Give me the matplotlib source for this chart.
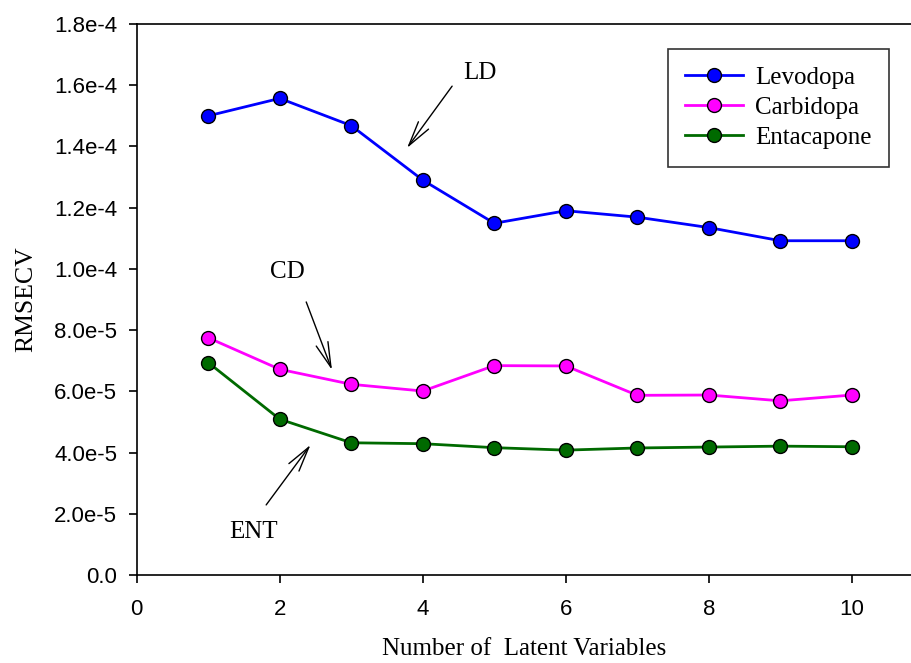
import matplotlib
matplotlib.use("Agg")
import matplotlib.pyplot as plt

# RMSECV vs number of latent variables
n_lv = [1, 2, 3, 4, 5, 6, 7, 8, 9, 10]
levodopa = [1.500e-4, 1.557e-4, 1.468e-4, 1.290e-4, 1.149e-4,
            1.190e-4, 1.169e-4, 1.135e-4, 1.092e-4, 1.092e-4]
carbidopa = [7.75e-5, 6.72e-5, 6.23e-5, 6.01e-5, 6.84e-5,
             6.83e-5, 5.87e-5, 5.88e-5, 5.69e-5, 5.88e-5]
entacapone = [6.94e-5, 5.09e-5, 4.32e-5, 4.29e-5, 4.16e-5,
              4.08e-5, 4.15e-5, 4.18e-5, 4.21e-5, 4.19e-5]

yticks = [0, 2e-5, 4e-5, 6e-5, 8e-5, 1e-4, 1.2e-4, 1.4e-4, 1.6e-4, 1.8e-4]
ytick_labels = ["0.0", "2.0e-5", "4.0e-5", "6.0e-5", "8.0e-5",
                "1.0e-4", "1.2e-4", "1.4e-4", "1.6e-4", "1.8e-4"]
xticks = [0, 2, 4, 6, 8, 10]

serif = "Liberation Serif"
sans = "Liberation Sans"

fig = plt.figure(figsize=(9.12, 6.63), dpi=100)
ax = fig.add_axes([0.1499, 0.1327, 0.8501, 0.8311])

mk = dict(marker="o", markersize=10, markeredgecolor="black",
          markeredgewidth=1.0, linewidth=2.0)
ax.plot(n_lv, levodopa, color="#0000ff", markerfacecolor="#0000ff",
        label="Levodopa", **mk)
ax.plot(n_lv, carbidopa, color="#ff00ff", markerfacecolor="#ff00ff",
        label="Carbidopa", **mk)
ax.plot(n_lv, entacapone, color="#006a00", markerfacecolor="#006a00",
        label="Entacapone", **mk)

ax.set_xlim(0, 10.84)
ax.set_ylim(0, 1.8e-4)
ax.set_xticks(xticks)
ax.set_xticklabels([str(t) for t in xticks], fontfamily=sans, fontsize=16)
ax.set_yticks(yticks)
ax.set_yticklabels(ytick_labels, fontfamily=sans, fontsize=16)
ax.tick_params(direction="out", length=6, width=1.2, pad=8)
ax.tick_params(axis="x", pad=11)

ax.spines["right"].set_visible(False)
for s in ["left", "bottom", "top"]:
    ax.spines[s].set_linewidth(1.2)

ax.set_xlabel("Number of  Latent Variables", fontfamily=serif, fontsize=18,
              labelpad=13)
ax.set_ylabel("RMSECV", fontfamily=serif, fontsize=18.5, labelpad=12)

# annotations with arrows
arrow = dict(arrowstyle="->,head_length=1.8,head_width=0.45",
             color="black", lw=1.0, shrinkA=0, shrinkB=0)
ax.annotate("", xy=(3.78, 1.395e-4), xytext=(4.41, 1.597e-4),
            arrowprops=arrow)
ax.text(4.80, 1.64e-4, "LD", fontfamily=serif, fontsize=18,
        ha="center", va="center")
ax.annotate("", xy=(2.73, 6.70e-5), xytext=(2.37, 8.92e-5),
            arrowprops=arrow)
ax.text(2.10, 9.9e-5, "CD", fontfamily=serif, fontsize=18,
        ha="center", va="center")
ax.annotate("", xy=(2.43, 4.25e-5), xytext=(1.81, 2.29e-5),
            arrowprops=arrow)
ax.text(1.63, 1.40e-5, "ENT", fontfamily=serif, fontsize=18,
        ha="center", va="center")

leg = ax.legend(loc="upper left", bbox_to_anchor=(0.685, 0.9546),
                prop={"family": serif, "size": 18}, frameon=True,
                fancybox=False, edgecolor="black", handlelength=2.3,
                handletextpad=0.5, labelspacing=0.3, borderpad=0.7,
                borderaxespad=0)
leg.get_frame().set_linewidth(1.2)

fig.savefig("out.png", dpi=100)
